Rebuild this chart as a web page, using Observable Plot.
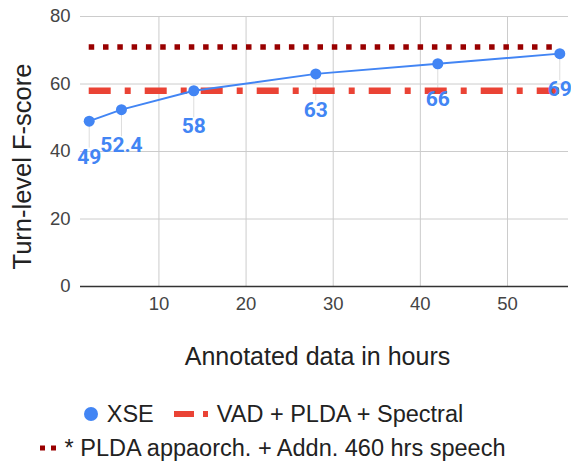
<!DOCTYPE html>
<html>
<head>
<meta charset="utf-8">
<script src="https://cdn.jsdelivr.net/npm/d3@7"></script>
<script src="https://cdn.jsdelivr.net/npm/@observablehq/plot@0.6"></script>
<style>
  html, body { margin: 0; padding: 0; background: #fff; }
  #chart { width: 571px; }
  .legend { font-family: "Liberation Sans", Arial, sans-serif; font-size: 23.5px; color: #222; width: 571px; }
  .row { display: flex; align-items: center; justify-content: center; height: 34px; }
  .item { display: flex; align-items: center; margin: 0 10px; }
  .item svg { margin-right: 9px; }
</style>
</head>
<body>
<div id="chart"></div>
<script>
const hours = [2, 5.7, 14, 28, 42, 56];
const xseScores = [49, 52.4, 58, 63, 66, 69];
const vadBaseline = 58;
const pldaBaseline = 71;
const baselineSpan = [2, 56];
const xTicks = [10, 20, 30, 40, 50];
const yTicks = [0, 20, 40, 60, 80];

const seriesNames = ["XSE", "VAD + PLDA + Spectral", "* PLDA appaorch. + Addn. 460 hrs speech"];
const colors = ["#4285f4", "#ea4335", "#990000"];

const data = hours.map((h, i) => ({x: h, y: xseScores[i]}));

const chart = Plot.plot({
  width: 571,
  height: 390,
  marginLeft: 80,
  marginRight: 3,
  marginTop: 16,
  marginBottom: 104,
  style: {fontFamily: "'Liberation Sans', Arial, sans-serif", background: "#fff"},
  x: {domain: [1, 57]},
  y: {domain: [0, 80]},
  marks: [
    Plot.gridX(xTicks, {stroke: "#ccc", strokeOpacity: 1}),
    Plot.gridY(yTicks, {stroke: "#ccc", strokeOpacity: 1}),
    Plot.ruleY([0], {stroke: "#333", strokeWidth: 1.5}),
    Plot.axisX(xTicks, {tickSize: 0, tickPadding: 10, fontSize: 18.5, color: "#444", label: null}),
    Plot.axisY(yTicks, {tickSize: 0, tickPadding: 10, fontSize: 18.5, color: "#444", label: null}),
    Plot.ruleX(data, {x: "x", y1: "y", y2: d => d.y - 8, stroke: "#ddd", strokeWidth: 1}),
    Plot.ruleY([pldaBaseline], {x1: baselineSpan[0], x2: baselineSpan[1], stroke: colors[2], strokeWidth: 5.5, strokeDasharray: "5.5,8.8"}),
    Plot.ruleY([vadBaseline], {x1: baselineSpan[0], x2: baselineSpan[1], stroke: colors[1], strokeWidth: 6.5, strokeDasharray: "22,14,6,14"}),
    Plot.line(data, {x: "x", y: "y", stroke: colors[0], strokeWidth: 2}),
    Plot.dot(data, {x: "x", y: "y", r: 5.5, fill: colors[0]}),
    Plot.text(data, {x: "x", y: "y", text: d => String(d.y), dy: 36, fill: colors[0], fontSize: 21, fontWeight: "bold", fontFamily: "Roboto, sans-serif"}),
    Plot.text(["Annotated data in hours"], {frameAnchor: "bottom", dx: -7, dy: 78, fontSize: 25, fill: "#222"}),
    Plot.text(["Turn-level F-score"], {frameAnchor: "left", textAnchor: "middle", rotate: -90, dx: -58, dy: 15, fontSize: 25.5, fill: "#222"})
  ]
});
document.getElementById("chart").appendChild(chart);

const legend = document.createElement("div");
legend.className = "legend";
legend.style.marginTop = "7px";
legend.innerHTML = `
  <div class="row" style="padding-right:24px">
    <div class="item"><svg width="14" height="14"><circle cx="7" cy="7" r="7" fill="${colors[0]}"/></svg><span>${seriesNames[0]}</span></div>
    <div class="item"><svg width="34" height="8"><line x1="0" x2="34" y1="4" y2="4" stroke="${colors[1]}" stroke-width="6" stroke-dasharray="20,9,6,20"/></svg><span>${seriesNames[1]}</span></div>
  </div>
  <div class="row" style="padding-right:26px">
    <div class="item"><svg width="16" height="6"><line x1="0" x2="16" y1="3" y2="3" stroke="${colors[2]}" stroke-width="5" stroke-dasharray="5,6"/></svg><span>${seriesNames[2]}</span></div>
  </div>`;
document.body.appendChild(legend);
</script>
</body>
</html>
